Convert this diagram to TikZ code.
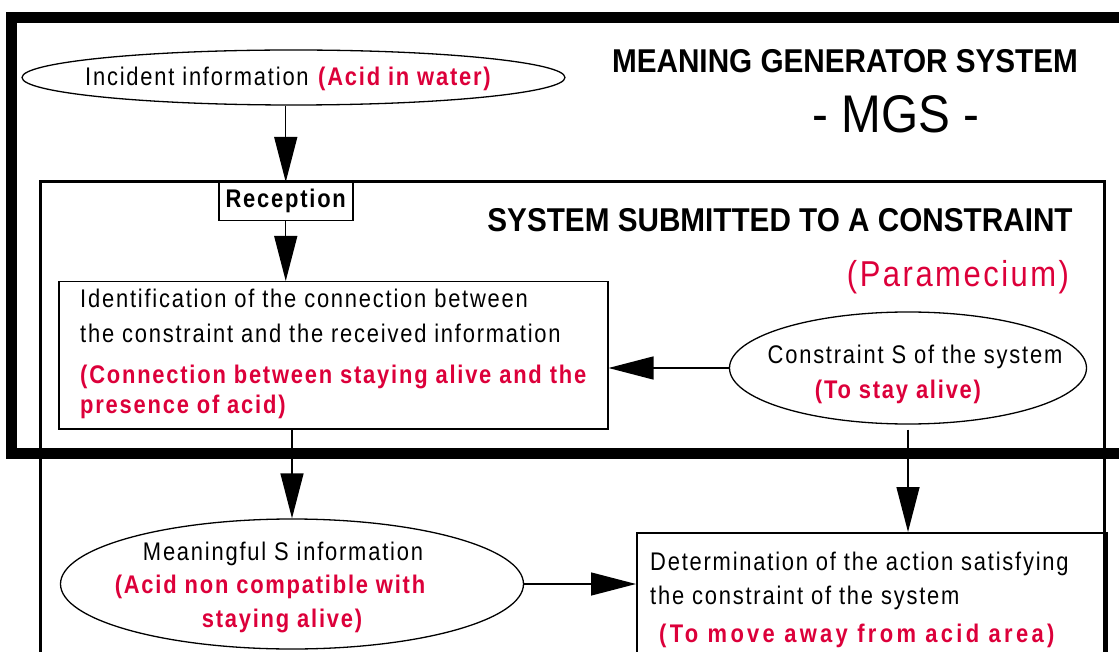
\documentclass[tikz,border=0pt]{standalone}
\usepackage{fontspec}
\setmainfont{Liberation Sans}[FakeStretch=0.9]
\newfontfamily\bodyfont{Liberation Sans}[FakeStretch=0.86, LetterSpace=7]
\newfontfamily\widebodyfont{Liberation Sans}[FakeStretch=0.86, LetterSpace=13]
\usetikzlibrary{shapes.geometric,arrows.meta,calc}
\definecolor{accent}{RGB}{220,0,58}
\tikzset{
  ovalnode/.style={draw, ellipse, line width=1.3pt, inner sep=0pt},
  boxnode/.style={draw, rectangle, line width=1.5pt, inner sep=0pt},
  arr/.style={line width=1.4pt, -{Triangle[length=45pt,width=23pt]}},
  frameouter/.style={line width=11pt},
  frameinner/.style={line width=3pt},
  txt/.style={inner sep=0pt, font=\bodyfont\fontsize{25.5}{28}\selectfont},
  redtxt/.style={inner sep=0pt, text=accent, font=\bodyfont\fontsize{25.5}{28}\selectfont\bfseries},
}
\begin{document}
\begin{tikzpicture}[x=1pt,y=-1pt]
\useasboundingbox (0,0) rectangle (1119,652);
\clip (0,0) rectangle (1119,652);
% frames
\draw[frameouter] (11,18) rectangle (1140,453);
\draw[frameinner] (40,182) rectangle (1104,700);
% titles
\node[inner sep=0pt, anchor=base, font=\fontsize{33}{35}\selectfont\bfseries] (title) at (845,73) {MEANING GENERATOR SYSTEM};
\node[inner sep=0pt, anchor=base, font=\fontsize{53}{55}\selectfont] (mgs) at (896,133) {- MGS -};
\node[inner sep=0pt, anchor=base, font=\fontsize{33}{35}\selectfont\bfseries] (sub) at (780,232) {SYSTEM SUBMITTED TO A CONSTRAINT};
\node[inner sep=0pt, anchor=base, text=accent, font=\bodyfont\fontsize{36}{40}\selectfont] (param) at (958,287) {(Paramecium)};
% incident ellipse
\node[ovalnode, minimum width=543pt, minimum height=55pt] (inc) at (293.5,77.5) {};
\node[txt, anchor=base west] (inct) at (85,86) {Incident information};
\node[redtxt, anchor=base west] (incr) at (318,86) {(Acid in water)};
% reception
\node[boxnode, minimum width=134pt, minimum height=38pt, anchor=north west] (rec) at (218,182) {};
\node[inner sep=0pt, anchor=base, font=\bodyfont\fontsize{25.5}{28}\selectfont\bfseries] (rect) at (rec.center |- 0,208) {Reception};
% identification box
\node[boxnode, minimum width=549pt, minimum height=147pt, anchor=north west] (id) at (58,281) {};
\node[txt, anchor=base west] (id1) at (80,308) {Identification of the connection between};
\node[txt, anchor=base west] (id2) at (80,342) {the constraint and the received information};
\node[redtxt, anchor=base west] (id3) at (80,383) {(Connection between staying alive and the};
\node[redtxt, anchor=base west] (id4) at (80,413) {presence of acid)};
% constraint ellipse
\node[ovalnode, minimum width=357pt, minimum height=112pt] (con) at (908,368) {};
\node[txt, anchor=base] (con1) at (915,363) {Constraint S of the system};
\node[redtxt, anchor=base] (con2) at (898,398) {(To stay alive)};
% meaningful ellipse
\node[ovalnode, minimum width=463pt, minimum height=130pt] (mean) at (292,584) {};
\node[txt, anchor=base] (mean1) at (283,560) {Meaningful S information};
\node[redtxt, anchor=base] (mean2) at (270,593) {(Acid non compatible with};
\node[redtxt, anchor=base] (mean3) at (282,627) {staying alive)};
% determination box
\node[boxnode, minimum width=470pt, minimum height=150pt, anchor=north west] (det) at (636,532) {};
\node[txt, anchor=base west] (det1) at (650,570) {Determination of the action satisfying};
\node[txt, anchor=base west] (det2) at (650,604) {the constraint of the system};
\node[redtxt, anchor=base west, font=\widebodyfont\fontsize{25.5}{28}\selectfont\bfseries] (det3) at (659,642) {(To move away from acid area)};
% connectors
\draw[arr] (inc.south -| rec.north) -- (rec.north);
\draw[arr] (rec.south) -- (rec.south |- id.north);
\draw[arr] (con.west) -- (con.west -| id.east);
\draw[arr] (id.south -| mean.north) -- (mean.north);
\draw[arr, shorten <=5pt] (con.south) -- (con.south |- det.north);
\draw[arr] (mean.east) -- (mean.east -| det.west);
\end{tikzpicture}
\end{document}
